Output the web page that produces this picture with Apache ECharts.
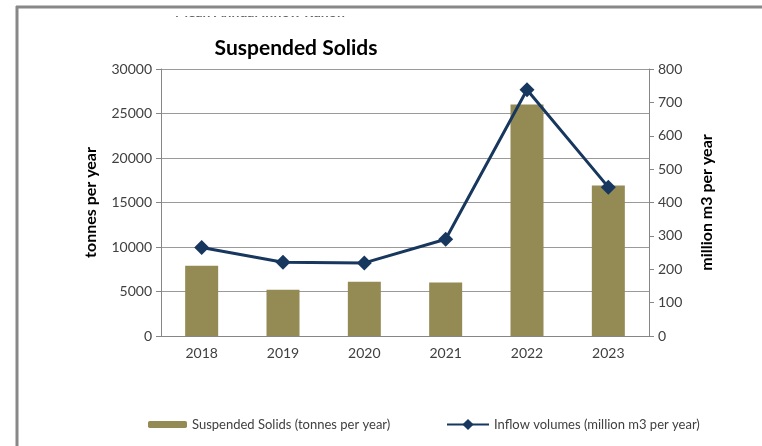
<!DOCTYPE html>
<html>
<head>
<meta charset="utf-8">
<script src="https://cdn.jsdelivr.net/npm/echarts@6/dist/echarts.min.js"></script>
<style>
  html, body { margin: 0; padding: 0; background: #fff; }
  #chart { width: 762px; height: 446px; }
</style>
</head>
<body>
<div id="chart"></div>
<script>
const years = ["2018", "2019", "2020", "2021", "2022", "2023"];
const solids = [7900, 5200, 6100, 6000, 26000, 16900];
const inflow = [265, 221, 219, 290, 738, 446];

const font = "Lato, 'Liberation Sans', sans-serif";
const axisGrey = "#868686";
const textGrey = "#404040";

const chart = echarts.init(document.getElementById("chart"));

chart.setOption({
  animation: false,
  backgroundColor: "#fff",
  textStyle: { fontFamily: font },
  title: {
    text: "Suspended Solids",
    left: 291,
    top: 33,
    textAlign: "center",
    textStyle: { fontSize: 21, fontWeight: "bold", color: "#000", fontFamily: font },
  },
  legend: [
    {
      data: ["Suspended Solids (tonnes per year)"],
      left: 143,
      top: 413,
      itemWidth: 39,
      itemHeight: 7,
      textStyle: { fontSize: 13, color: textGrey, fontFamily: font },
    },
    {
      data: ["Inflow volumes (million m3 per year)"],
      left: 441,
      top: 413,
      itemWidth: 42,
      itemHeight: 14,
      textStyle: { fontSize: 13, color: textGrey, fontFamily: font },
    },
  ],
  grid: { left: 161, right: 113, top: 69, bottom: 110 },
  xAxis: {
    type: "category",
    data: years,
    axisLine: { lineStyle: { color: axisGrey, width: 1 } },
    axisTick: { length: 5, lineStyle: { color: axisGrey } },
    axisLabel: { fontSize: 14, color: textGrey, margin: 10 },
  },
  yAxis: [
    {
      type: "value",
      min: 0,
      max: 30000,
      interval: 5000,
      name: "tonnes per year",
      nameLocation: "middle",
      nameGap: 62,
      nameTextStyle: { fontSize: 16, fontWeight: "bold", color: "#000" },
      axisLine: { show: true, lineStyle: { color: axisGrey } },
      axisTick: { show: true, length: 5, lineStyle: { color: axisGrey } },
      axisLabel: { fontSize: 14, color: textGrey, margin: 9, formatter: (v) => String(v) },
      splitLine: { lineStyle: { color: "#9a9a9a", width: 1 } },
    },
    {
      type: "value",
      min: 0,
      max: 800,
      interval: 100,
      name: "million m3 per year",
      nameLocation: "middle",
      nameGap: 50,
      nameTextStyle: { fontSize: 16, fontWeight: "bold", color: "#000" },
      axisLine: { show: true, lineStyle: { color: axisGrey } },
      axisTick: { show: true, length: 5, lineStyle: { color: axisGrey } },
      axisLabel: { fontSize: 14, color: textGrey, margin: 9, formatter: (v) => String(v) },
      splitLine: { show: false },
    },
  ],
  series: [
    {
      name: "Suspended Solids (tonnes per year)",
      type: "bar",
      yAxisIndex: 0,
      barWidth: 33,
      itemStyle: { color: "#948a54" },
      data: solids,
    },
    {
      name: "Inflow volumes (million m3 per year)",
      type: "line",
      yAxisIndex: 1,
      symbol: "diamond",
      symbolSize: 15,
      lineStyle: { color: "#17375e", width: 3 },
      itemStyle: { color: "#17375e" },
      data: inflow,
    },
  ],
  graphic: [
    {
      type: "text",
      left: 175,
      top: 5,
      z: 1,
      style: { text: "Mean Annual Inflow Runoff", font: "bold 14px " + font, fill: "#666" },
    },
    { type: "rect", shape: { x: 18, y: 8, width: 744, height: 8 }, style: { fill: "#fff" }, z: 2 },
    { type: "line", shape: { x1: 16, y1: 7, x2: 762, y2: 7 }, style: { stroke: "#888", lineWidth: 3 }, z: 3 },
    { type: "line", shape: { x1: 17, y1: 6, x2: 17, y2: 446 }, style: { stroke: "#888", lineWidth: 3 }, z: 3 },
  ],
});
</script>
</body>
</html>
